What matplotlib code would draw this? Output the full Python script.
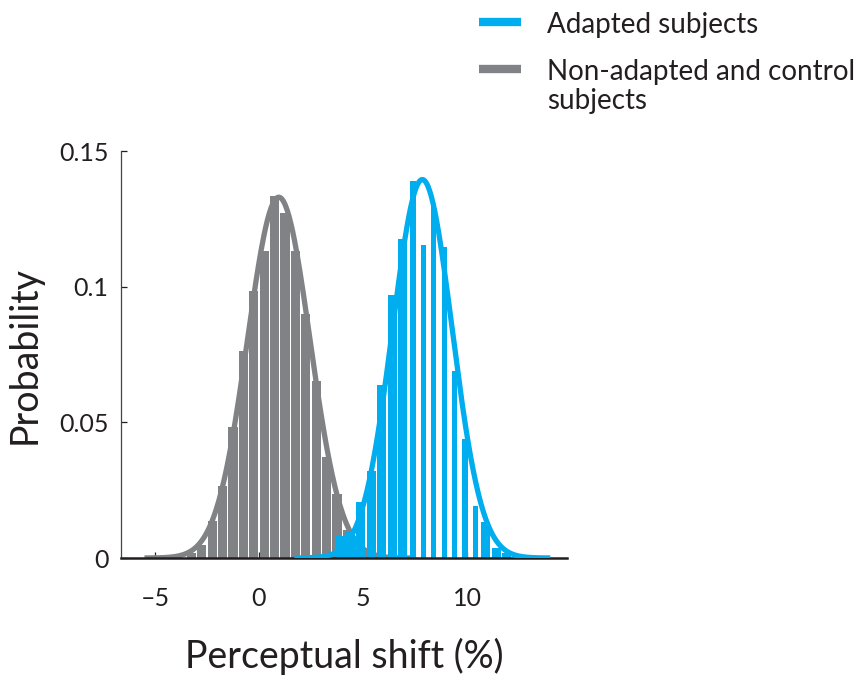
import matplotlib
matplotlib.use('Agg')
import matplotlib.pyplot as plt
from matplotlib.lines import Line2D
import numpy as np

plt.rcParams['font.family'] = ['Lato', 'DejaVu Sans']

# histogram bins (centres, in %) and probabilities
gray_bins = [-3.25, -2.75, -2.25, -1.75, -1.25, -0.75, -0.25, 0.25, 0.75, 1.25,
             1.75, 2.25, 2.75, 3.25, 3.75, 4.25, 4.75, 5.25]
gray_prob = [0.002, 0.0048, 0.0135, 0.0265, 0.0483, 0.0763, 0.0984, 0.1132, 0.1334, 0.1273,
             0.1132, 0.0898, 0.0652, 0.0372, 0.0235, 0.0105, 0.005, 0.002]

blue_bins = [3.9, 4.4, 4.9, 5.4, 5.9, 6.4, 6.9, 7.4, 7.9, 8.4,
             8.9, 9.4, 9.9, 10.4, 10.9, 11.4, 11.9]
blue_prob = [0.008, 0.0098, 0.0206, 0.0322, 0.0636, 0.0968, 0.1174, 0.139, 0.1152, 0.1296,
             0.1146, 0.0689, 0.044, 0.019, 0.0132, 0.0038, 0.0017]

# gaussian fits (mean, sd) drawn over the histograms
gray_fit = (0.95, 1.5)
blue_fit = (7.85, 1.43)
bin_width = 0.5

x_ticks = [-5, 0, 5, 10]
y_ticks = [0, 0.05, 0.1, 0.15]
y_ticklabels = ['0', '0.05', '0.1', '0.15']

gray = '#808285'
blue = '#00AEEF'
ink = '#231F20'

fig = plt.figure(figsize=(8.61, 6.84), dpi=100)
ax = fig.add_axes([0.1405, 0.1842, 0.518, 0.595])

# blue bars in the middle are drawn thinner in the original
blue_w = [0.43] * 7 + [0.25] * 7 + [0.43] * 3

def fit_curve(mu, sd):
    xs = np.linspace(mu - 4.3 * sd, mu + 4.3 * sd, 300)
    ys = bin_width * np.exp(-0.5 * ((xs - mu) / sd) ** 2) / (sd * np.sqrt(2 * np.pi))
    return xs, ys

ax.bar(gray_bins, gray_prob, width=0.44, color=gray, linewidth=0, zorder=1)
gx, gy = fit_curve(*gray_fit)
ax.plot(gx, gy, color=gray, lw=3.8, solid_capstyle='butt', zorder=2)
ax.bar(blue_bins, blue_prob, width=blue_w, color=blue, linewidth=0, zorder=3)
bx, by = fit_curve(*blue_fit)
ax.plot(bx, by, color=blue, lw=3.8, solid_capstyle='butt', zorder=4)

ax.set_xlim(-6.63, 14.8)
ax.set_ylim(0, 0.15)
ax.set_xticks(x_ticks)
ax.set_xticklabels(['\u2013' + str(abs(t)) if t < 0 else str(t) for t in x_ticks])
ax.set_yticks(y_ticks)
ax.set_yticklabels(y_ticklabels)
ax.set_axisbelow(True)

for s in ['top', 'right']:
    ax.spines[s].set_visible(False)
ax.spines['bottom'].set_linewidth(1.8)
ax.spines['bottom'].set_color(ink)
ax.spines['bottom'].set_zorder(3.5)
ax.spines['left'].set_linewidth(0.9)
ax.spines['left'].set_color('#444444')

ax.tick_params(axis='both', direction='in', length=4, width=0.9, colors=ink,
               labelsize=18, labelcolor=ink)
ax.tick_params(axis='x', pad=21)
ax.tick_params(axis='y', pad=9)

ax.set_xlabel('Perceptual shift (%)', fontsize=27, color=ink, labelpad=20)
ax.set_ylabel('Probability', fontsize=27, color=ink, labelpad=12)

# legend drawn by hand at the top right
fig.add_artist(Line2D([479 / 861, 521 / 861], [1 - 21.5 / 684] * 2, transform=fig.transFigure,
                      color=blue, lw=6, solid_capstyle='butt'))
fig.add_artist(Line2D([479 / 861, 521 / 861], [1 - 69 / 684] * 2, transform=fig.transFigure,
                      color=gray, lw=6, solid_capstyle='butt'))
fig.text(547 / 861, 1 - 33 / 684, 'Adapted subjects', fontsize=20, color=ink, va='baseline')
fig.text(547 / 861, 1 - 80 / 684, 'Non-adapted and control', fontsize=20, color=ink, va='baseline')
fig.text(547 / 861, 1 - 109 / 684, 'subjects', fontsize=20, color=ink, va='baseline')

fig.savefig('out.png', dpi=100)
